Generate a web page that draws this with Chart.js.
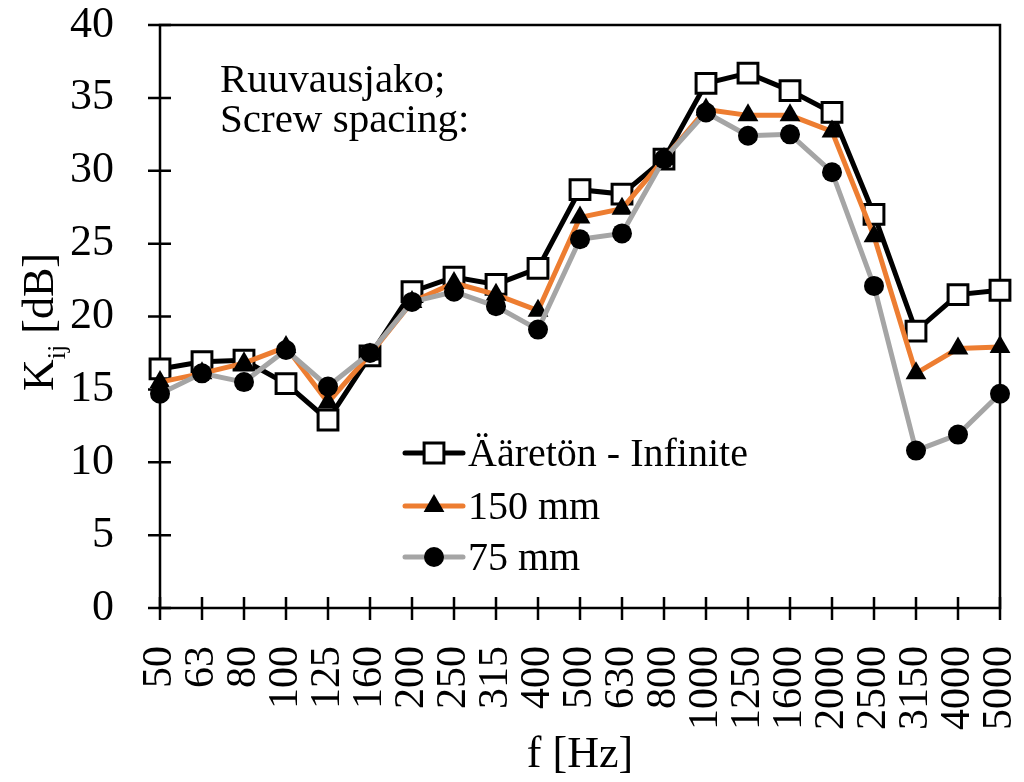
<!DOCTYPE html>
<html lang="fi">
<head>
<meta charset="UTF-8">
<title>Kij - Screw spacing</title>
<script src="https://cdn.jsdelivr.net/npm/chart.js"></script>
<style>
  html, body { margin: 0; padding: 0; background: #ffffff; }
  #wrap { width: 1024px; height: 782px; }
</style>
</head>
<body>
<div id="wrap"><canvas id="kijChart" width="1024" height="782"></canvas></div>
<script>
// one-third octave bands
const freqs = ['50', '63', '80', '100', '125', '160', '200', '250', '315', '400', '500',
  '630', '800', '1000', '1250', '1600', '2000', '2500', '3150', '4000', '5000'];

// K_ij [dB]
const infinite = [16.4, 16.9, 17.0, 15.4, 12.9, 17.3, 21.7, 22.7, 22.2, 23.3, 28.7,
  28.4, 30.8, 36.0, 36.7, 35.5, 34.0, 27.0, 19.0, 21.5, 21.8];
const spacing150 = [15.5, 16.1, 16.8, 17.9, 14.1, 17.4, 21.0, 22.3, 21.5, 20.4, 26.8,
  27.4, 30.8, 34.2, 33.8, 33.8, 32.7, 25.5, 16.1, 17.8, 17.9];
const spacing75 = [14.7, 16.1, 15.5, 17.7, 15.2, 17.5, 21.0, 21.7, 20.7, 19.1, 25.3,
  25.7, 30.8, 34.0, 32.4, 32.5, 29.9, 22.1, 10.8, 11.9, 14.7];

const seriesNames = ['Ääretön - Infinite', '150 mm', '75 mm'];
const noteLines = ['Ruuvausjako;', 'Screw spacing:'];

const SERIF = '"Liberation Serif", "Times New Roman", serif';

// box, crossing tick marks, titles, note and legend
const decor = {
  id: 'decor',
  beforeDatasetsDraw(chart) {
    const { ctx, chartArea: a, scales: { x, y } } = chart;
    ctx.save();
    ctx.strokeStyle = '#000';
    ctx.lineWidth = 2.5;
    ctx.strokeRect(a.left, a.top, a.right - a.left, a.bottom - a.top);
    ctx.beginPath();
    y.ticks.forEach(t => {
      const py = y.getPixelForValue(t.value);
      ctx.moveTo(a.left - 12, py);
      ctx.lineTo(a.left + 11, py);
    });
    x.ticks.forEach((t, i) => {
      const px = x.getPixelForTick(i);
      ctx.moveTo(px, a.bottom - 11);
      ctx.lineTo(px, a.bottom + 12);
    });
    ctx.stroke();
    ctx.restore();
  },
  afterDraw(chart) {
    const { ctx } = chart;
    ctx.save();
    ctx.fillStyle = '#000';
    ctx.textBaseline = 'alphabetic';

    // y title with subscript
    ctx.translate(53, 322);
    ctx.rotate(-Math.PI / 2);
    ctx.font = '44px ' + SERIF;
    const wK = ctx.measureText('K').width;
    const wRest = ctx.measureText(' [dB]').width;
    ctx.font = '26px ' + SERIF;
    const wSub = ctx.measureText('ij').width;
    let x0 = -(wK + wSub + wRest) / 2;
    ctx.font = '44px ' + SERIF;
    ctx.fillText('K', x0, 0);
    ctx.font = '26px ' + SERIF;
    ctx.fillText('ij', x0 + wK, 12);
    ctx.font = '44px ' + SERIF;
    ctx.fillText(' [dB]', x0 + wK + wSub, 0);
    ctx.setTransform(1, 0, 0, 1, 0, 0);

    // x title
    ctx.textAlign = 'center';
    ctx.fillText('f [Hz]', 580, 767);

    // note in top-left corner
    ctx.textAlign = 'left';
    ctx.font = '41px ' + SERIF;
    ctx.fillText(noteLines[0], 220, 92);
    ctx.fillText(noteLines[1], 220, 132);

    // legend
    const rows = [453, 506, 557];
    chart.data.datasets.forEach((ds, i) => {
      const ry = rows[i];
      ctx.strokeStyle = ds.borderColor;
      ctx.lineWidth = ds.borderWidth;
      ctx.lineCap = 'round';
      ctx.beginPath();
      ctx.moveTo(405, ry);
      ctx.lineTo(463, ry);
      ctx.stroke();
      ctx.fillStyle = ds.pointBackgroundColor;
      ctx.strokeStyle = ds.pointBorderColor;
      ctx.lineWidth = ds.pointBorderWidth;
      Chart.helpers.drawPoint(ctx, {
        pointStyle: ds.pointStyle, radius: ds.pointRadius, rotation: 0,
        borderWidth: ds.pointBorderWidth
      }, 434, ry);
      ctx.fillStyle = '#000';
      ctx.font = '40px ' + SERIF;
      ctx.textBaseline = 'middle';
      ctx.fillText(ds.label, 468, ry + 2);
    });
    ctx.restore();
  }
};

const ctx = document.getElementById('kijChart').getContext('2d');
new Chart(ctx, {
  type: 'line',
  data: {
    labels: freqs,
    datasets: [
      {
        label: seriesNames[0], data: infinite, order: 2,
        borderColor: '#000000', borderWidth: 5,
        pointStyle: 'rect', pointRadius: 14,
        pointBackgroundColor: '#ffffff', pointBorderColor: '#000000', pointBorderWidth: 3
      },
      {
        label: seriesNames[1], data: spacing150, order: 1,
        borderColor: '#ED7D31', borderWidth: 5,
        pointStyle: 'triangle', pointRadius: 12,
        pointBackgroundColor: '#000000', pointBorderColor: '#000000', pointBorderWidth: 0
      },
      {
        label: seriesNames[2], data: spacing75, order: 0,
        borderColor: '#A5A5A5', borderWidth: 5,
        pointStyle: 'circle', pointRadius: 10,
        pointBackgroundColor: '#000000', pointBorderColor: '#000000', pointBorderWidth: 0
      }
    ]
  },
  options: {
    responsive: false,
    animation: false,
    devicePixelRatio: 1,
    clip: false,
    layout: { padding: { top: 25, right: 24, left: 0, bottom: 0 } },
    elements: { line: { tension: 0 } },
    plugins: {
      legend: { display: false },
      tooltip: { enabled: false }
    },
    scales: {
      x: {
        offset: false,
        grid: { display: false },
        border: { display: false },
        ticks: {
          autoSkip: false, minRotation: 90, maxRotation: 90, padding: 30,
          color: '#000', font: { family: SERIF, size: 42 }
        },
        afterFit(scale) {
          scale.height = 174;
          scale.paddingLeft = 0;
          scale.paddingRight = 0;
        }
      },
      y: {
        min: 0, max: 40,
        grid: { display: false },
        border: { display: false },
        ticks: {
          stepSize: 5, padding: 38,
          color: '#000', font: { family: SERIF, size: 44 }
        },
        afterFit(scale) {
          scale.width = 160;
          scale.paddingTop = 0;
          scale.paddingBottom = 0;
        }
      }
    }
  },
  plugins: [decor]
});
</script>
</body>
</html>
